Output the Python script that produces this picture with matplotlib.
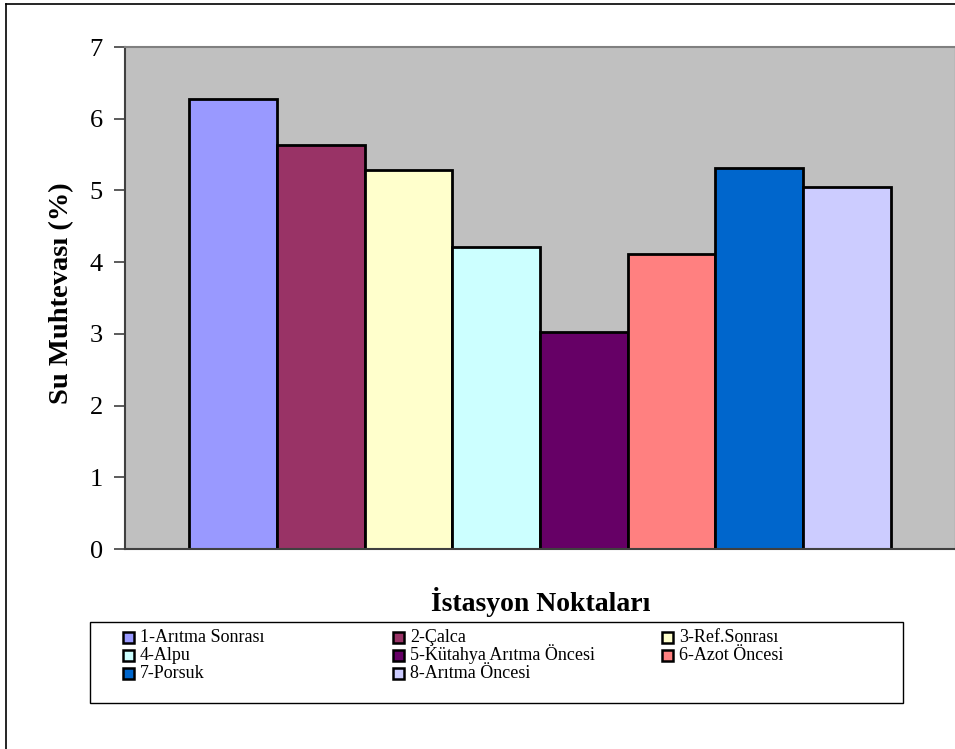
import matplotlib
matplotlib.use("Agg")
import matplotlib.pyplot as plt
from matplotlib.lines import Line2D
from matplotlib.patches import Rectangle

stations = ["1-Arıtma Sonrası", "2-Çalca", "3-Ref.Sonrası", "4-Alpu",
            "5-Kütahya Arıtma Öncesi", "6-Azot Öncesi", "7-Porsuk", "8-Arıtma Öncesi"]
values = [6.28, 5.63, 5.29, 4.21, 3.03, 4.12, 5.31, 5.05]
colors = ["#9999FF", "#993366", "#FFFFCC", "#CCFFFF",
          "#660066", "#FF8080", "#0066CC", "#CCCCFF"]
yticks = [0, 1, 2, 3, 4, 5, 6, 7]

plt.rcParams['font.family'] = ['Liberation Serif', 'DejaVu Serif']

W, H = 955, 749
fig = plt.figure(figsize=(W / 100, H / 100), dpi=100)
fig.patch.set_facecolor("white")

ax = fig.add_axes([125 / W, 1 - 549 / H, (955 - 125) / W, (549 - 47) / H])
ax.set_facecolor("#C0C0C0")

bars = []
for i, (v, c, lab) in enumerate(zip(values, colors, stations)):
    b = ax.bar(i, v, width=1.0, color=c, edgecolor="black", linewidth=2.0, label=lab)
    bars.append(b)

ax.set_xlim(-1.235, 8.235)
ax.set_ylim(0, 7)
ax.set_yticks(yticks)
ax.set_yticklabels([str(t) for t in yticks], fontsize=19)
ax.set_xticks([])
ax.tick_params(axis='y', direction='out', length=8, width=1.2, color='#404040', pad=8)

for side in ['left', 'bottom']:
    ax.spines[side].set_color('#404040')
    ax.spines[side].set_linewidth(1.5)
ax.spines['top'].set_color('#808080')
ax.spines['top'].set_linewidth(1.5)
ax.spines['right'].set_color('#A0A0A0')
ax.spines['right'].set_linewidth(1.0)

fig.text(62 / W, 1 - 293 / H, "Su Muhtevası (%)", rotation=90, ha='center', va='center',
         fontsize=20.5, fontweight='bold')
fig.text(541 / W, 1 - 602 / H, "İstasyon Noktaları", ha='center', va='center',
         fontsize=20, fontweight='bold')

# Legend box
fig.add_artist(Rectangle((90 / W, 1 - 703 / H), (903 - 90) / W, (703 - 622) / H,
                         transform=fig.transFigure, facecolor='white', edgecolor='black',
                         linewidth=1.0, zorder=1))

# Legend entries laid out row-major, 3 columns, like the original
col_x = [123, 393, 662]
row_y = [637, 655, 673]
key = 11
for i, (lab, c) in enumerate(zip(stations, colors)):
    r, k = divmod(i, 3)
    x0, yc = col_x[k], row_y[r]
    fig.add_artist(Rectangle((x0 / W, 1 - (yc + key / 2) / H), key / W, key / H,
                             transform=fig.transFigure, facecolor=c, edgecolor='black',
                             linewidth=1.8, zorder=2))
    fig.text((x0 + key + 6) / W, 1 - (yc + 5.5) / H, lab, ha='left', va='baseline',
             fontsize=13, zorder=2)

# Outer border (left and top)
fig.add_artist(Line2D([6 / W, 6 / W], [0, 1 - 4 / H], transform=fig.transFigure,
                      color='black', linewidth=1.2))
fig.add_artist(Line2D([6 / W, 1], [1 - 4 / H, 1 - 4 / H], transform=fig.transFigure,
                      color='black', linewidth=1.2))

fig.savefig("out.png", dpi=100)
